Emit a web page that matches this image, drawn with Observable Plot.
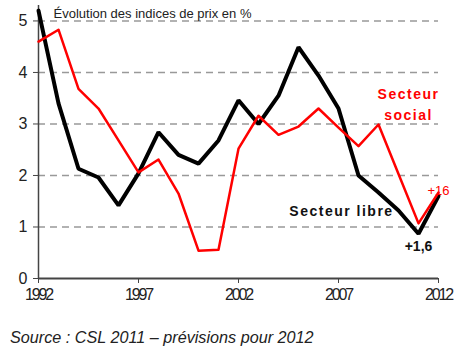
<!DOCTYPE html>
<html><head><meta charset="utf-8">
<script src="https://cdn.jsdelivr.net/npm/d3@7"></script>
<script src="https://cdn.jsdelivr.net/npm/@observablehq/plot@0.6"></script>
<style>
body{margin:0;background:#fff;font-family:"Liberation Sans",Arial,sans-serif;}
#caption{font-style:italic;font-size:16.2px;line-height:20px;color:#222;margin-top:17px;padding-left:10px;}
</style></head><body><div id="chart"></div><div id="caption">Source : CSL 2011 – prévisions pour 2012</div>
<script>
const years = [1992,1993,1994,1995,1996,1997,1998,1999,2000,2001,2002,2003,2004,2005,2006,2007,2008,2009,2010,2011,2012];
const libre = [5.2,3.4,2.13,1.96,1.42,2.04,2.84,2.4,2.23,2.68,3.46,3.0,3.55,4.49,3.94,3.3,2.0,1.67,1.32,0.87,1.6];
const social = [4.6,4.83,3.68,3.3,2.68,2.06,2.31,1.65,0.54,0.56,2.52,3.16,2.79,2.95,3.3,2.93,2.57,2.99,2.03,1.07,1.67];
const xTicks = [1992,1997,2002,2007,2012];
const yTicks = [0,1,2,3,4,5];
const gridVals = [1,2,3,4,5];

const libreData = years.map((y,i)=>({year:y, v:libre[i]}));
const socialData = years.map((y,i)=>({year:y, v:social[i]}));

const plot = Plot.plot({
  width: 468, height: 310,
  marginLeft: 38, marginRight: 30, marginTop: 5, marginBottom: 32,
  style: {fontFamily: "'Liberation Sans', Arial, sans-serif", fontSize: "14px", color: "#222", background: "#fff"},
  x: {domain: [1992, 2012]},
  y: {domain: [0, 5.3]},
  marks: [
    Plot.gridY(gridVals, {stroke: "#999", strokeOpacity: 1, strokeWidth: 1.5, strokeDasharray: "7,5"}),
    Plot.ruleX([1992], {stroke: "#444", strokeWidth: 1.5}),
    Plot.ruleY([0], {stroke: "#444", strokeWidth: 2}),
    Plot.axisY(yTicks, {tickSize: 5, tickPadding: 6, stroke: "#444", tickFormat: d => String(d), label: null}),
    Plot.axisX(xTicks, {tickSize: 5, tickPadding: 5, stroke: "#444", tickFormat: d => String(d), label: null}),
    Plot.line(libreData, {x: "year", y: "v", stroke: "#000", strokeWidth: 4, strokeLinejoin: "miter"}),
    Plot.line(socialData, {x: "year", y: "v", stroke: "#ff0000", strokeWidth: 2.5}),
    Plot.text(["Évolution des indices de prix en %"], {x: 1992.75, y: 5.13, text: d => d, textAnchor: "start", fontSize: 13, fill: "#222"}),
    Plot.text(["Secteur\nsocial"], {x: 2010.5, y: 3.41, text: d => d, fontSize: 14, fontWeight: "bold", fill: "#ff0000", lineHeight: 1.5}),
    Plot.text(["Secteur libre"], {x: 2007.15, y: 1.30, text: d => d, fontSize: 14, fontWeight: "bold", fill: "#111"}),
    Plot.text(["+1,6"], {x: 2011, y: 0.62, text: d => d, fontSize: 14, fontWeight: "bold", fill: "#111"}),
    Plot.text(["+16"], {x: 2012, y: 1.71, text: d => d, fontSize: 13, fill: "#ff0000"})
  ]
});
const svg = d3.select(plot);
svg.selectAll("[aria-label='x-axis tick label'] text").style("font-size", "16px").attr("letter-spacing", "-2.2");
svg.selectAll("[aria-label='y-axis tick label'] text").style("font-size", "16px");
svg.selectAll("text").filter(function(){return this.textContent.startsWith("Secteur");}).attr("letter-spacing", "1.5");
document.getElementById("chart").appendChild(plot);
</script></body></html>
